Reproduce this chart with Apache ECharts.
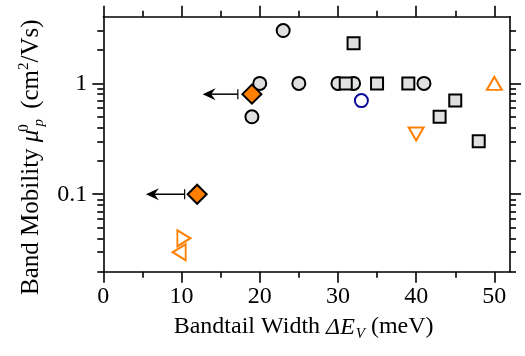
<!DOCTYPE html>
<html><head><meta charset="utf-8">
<script src="https://cdn.jsdelivr.net/npm/echarts@6/dist/echarts.min.js"></script>
<style>html,body{margin:0;padding:0;background:#fff}#c{width:525px;height:356px}</style>
</head><body><div id="c"></div>
<script>
// ---- data ----
const grayCircles = [[19,0.5],[20,1],[23,3],[25,1],[30,1],[32,1],[41,1]];
const graySquares = [[31,1],[32,2.3],[35,1],[39,1],[43,0.5],[45,0.7],[48,0.3]];
const blueCircles = [[33,0.7]];
const triUp = [[50,1]];
const triDown = [[40,0.35]];
const triRight = [[10.3,0.04]];
const triLeft = [[9.7,0.03]];
const diamonds = [[19,0.8],[12,0.1]];
// upper-bound arrows: [xStart, xEnd, y]
const arrows = [[17.2,12.7,0.8],[10.4,5.45,0.1]];
// tick values
const xMajor = [0,10,20,30,40,50];
const xMinor = [5,15,25,35,45];
const yMajor = [0.1,1];
const yMinor = [0.02,0.03,0.04,0.05,0.06,0.07,0.08,0.09,0.2,0.3,0.4,0.5,0.6,0.7,0.8,0.9,2,3];
const X_MIN = 0, X_MAX = 52, Y_MIN = 0.02, Y_MAX = 4;

const FONT = 'Liberation Serif';
const LW = 1.6;

function xAx(pos, ticks, len, main) {
  return {
    type:'value', min:X_MIN, max:X_MAX, position:pos,
    axisLine:{show:main, onZero:false, lineStyle:{color:'#000', width:LW}},
    axisTick:{show:true, inside:false, length:len, customValues:ticks, lineStyle:{color:'#000', width:LW}},
    axisLabel:{show:false}, splitLine:{show:false}
  };
}
function yAx(pos, ticks, len, main) {
  return {
    type:'log', logBase:10, min:Y_MIN, max:Y_MAX, position:pos,
    axisLine:{show:main, onZero:false, lineStyle:{color:'#000', width:LW}},
    axisTick:{show:true, inside:false, length:len, customValues:ticks, lineStyle:{color:'#000', width:LW}},
    axisLabel:{show:false}, splitLine:{show:false}, minorTick:{show:false}
  };
}

const xBottom = xAx('bottom', xMajor, 11, true);
xBottom.axisLabel = {show:true, customValues:xMajor, fontFamily:FONT, fontSize:24, color:'#000', margin:13};
xBottom.name = 'Bandtail Width {i|ΔE}{sb|V} (meV)';
xBottom.nameLocation = 'middle';
xBottom.nameGap = 41;
xBottom.nameTextStyle = {fontFamily:FONT, fontSize:24, color:'#000', padding:[0,6,0,0],
  rich:{ i:{fontFamily:FONT, fontSize:24, fontStyle:'italic', color:'#000'},
         sb:{fontFamily:FONT, fontSize:15, fontStyle:'italic', color:'#000', padding:[14,0,0,1]} }};

const yLeft = yAx('left', yMajor, 11, true);
yLeft.axisLabel = {show:true, customValues:yMajor, fontFamily:FONT, fontSize:24, color:'#000', margin:16,
  formatter: v => (Math.abs(v-0.1)<1e-9 ? '0.1' : String(Math.round(v*100)/100))};
yLeft.name = 'Band Mobility {mu|μ}{su|0}{sb|p} (cm{sq|2}/Vs)';
yLeft.nameLocation = 'middle';
yLeft.nameGap = 50;
yLeft.nameTextStyle = {fontFamily:FONT, fontSize:25, color:'#000', padding:[0,26,0,0],
  rich:{ mu:{fontFamily:FONT, fontSize:25, fontStyle:'italic', color:'#000'},
         su:{fontFamily:FONT, fontSize:15, color:'#000', padding:[0,0,16,1], width:1},
         sb:{fontFamily:FONT, fontSize:15, fontStyle:'italic', color:'#000', padding:[14,4,0,1]},
         sq:{fontFamily:FONT, fontSize:15, color:'#000', padding:[0,0,15,0]} }};

function sc(name, data, symbol, size, fill, stroke, bw, z, rot) {
  return {name, type:'scatter', data, symbol, symbolSize:size, symbolRotate:rot||0, z,
    xAxisIndex:0, yAxisIndex:0,
    itemStyle:{color:fill, borderColor:stroke, borderWidth:bw, opacity:1},
    emphasis:{disabled:true}, animation:false};
}

const option = {
  animation:false,
  backgroundColor:'#fff',
  grid:{left:103.3, right:15, top:16.7, bottom:84.3, containLabel:false},
  xAxis:[xBottom, xAx('bottom', xMinor, 6, false), xAx('top', xMajor, 11, true), xAx('top', xMinor, 6, false)],
  yAxis:[yLeft, yAx('left', yMinor, 6, false), yAx('right', yMajor, 11, true), yAx('right', yMinor, 6, false)],
  series:[
    sc('c', grayCircles, 'circle', 13, '#e0e0e0', '#000', 2, 2),
    sc('s', graySquares, 'rect', 12, '#e0e0e0', '#000', 2, 3),
    sc('b', blueCircles, 'circle', 13, 'rgba(255,255,255,0)', '#0a0a9c', 2, 4),
    sc('tu', triUp, 'triangle', [15,13], 'rgba(255,255,255,0)', '#ff8000', 2, 4, 0),
    sc('td', triDown, 'triangle', [15,13], 'rgba(255,255,255,0)', '#ff8000', 2, 4, 180),
    sc('tr', triRight, 'triangle', [16,13], 'rgba(255,255,255,0)', '#ff8000', 2, 4, -90),
    sc('tl', triLeft, 'triangle', [16,13], 'rgba(255,255,255,0)', '#ff8000', 2, 4, 90),
    sc('d', diamonds, 'diamond', 19, '#ff8000', '#000', 2, 6),
    {type:'custom', name:'arrows', data:arrows, z:5, xAxisIndex:0, yAxisIndex:0,
     encode:{x:[0,1], y:2}, animation:false, silent:true,
     renderItem:function(params, api){
       const p0 = api.coord([api.value(0), api.value(2)]);
       const p1 = api.coord([api.value(1), api.value(2)]);
       return {type:'group', children:[
         {type:'line', shape:{x1:p0[0], y1:p0[1], x2:p1[0]+7, y2:p1[1]}, style:{stroke:'#000', lineWidth:1.5}},
         {type:'line', shape:{x1:p0[0], y1:p0[1]-5, x2:p0[0], y2:p0[1]+5}, style:{stroke:'#000', lineWidth:1.2}},
         {type:'polygon', shape:{points:[[p1[0],p1[1]],[p1[0]+13,p1[1]-6],[p1[0]+8.5,p1[1]],[p1[0]+13,p1[1]+6]]}, style:{fill:'#000'}}
       ]};
     }}
  ]
};
const chart = echarts.init(document.getElementById('c'), null, {renderer:'canvas'});
chart.setOption(option);
</script></body></html>
